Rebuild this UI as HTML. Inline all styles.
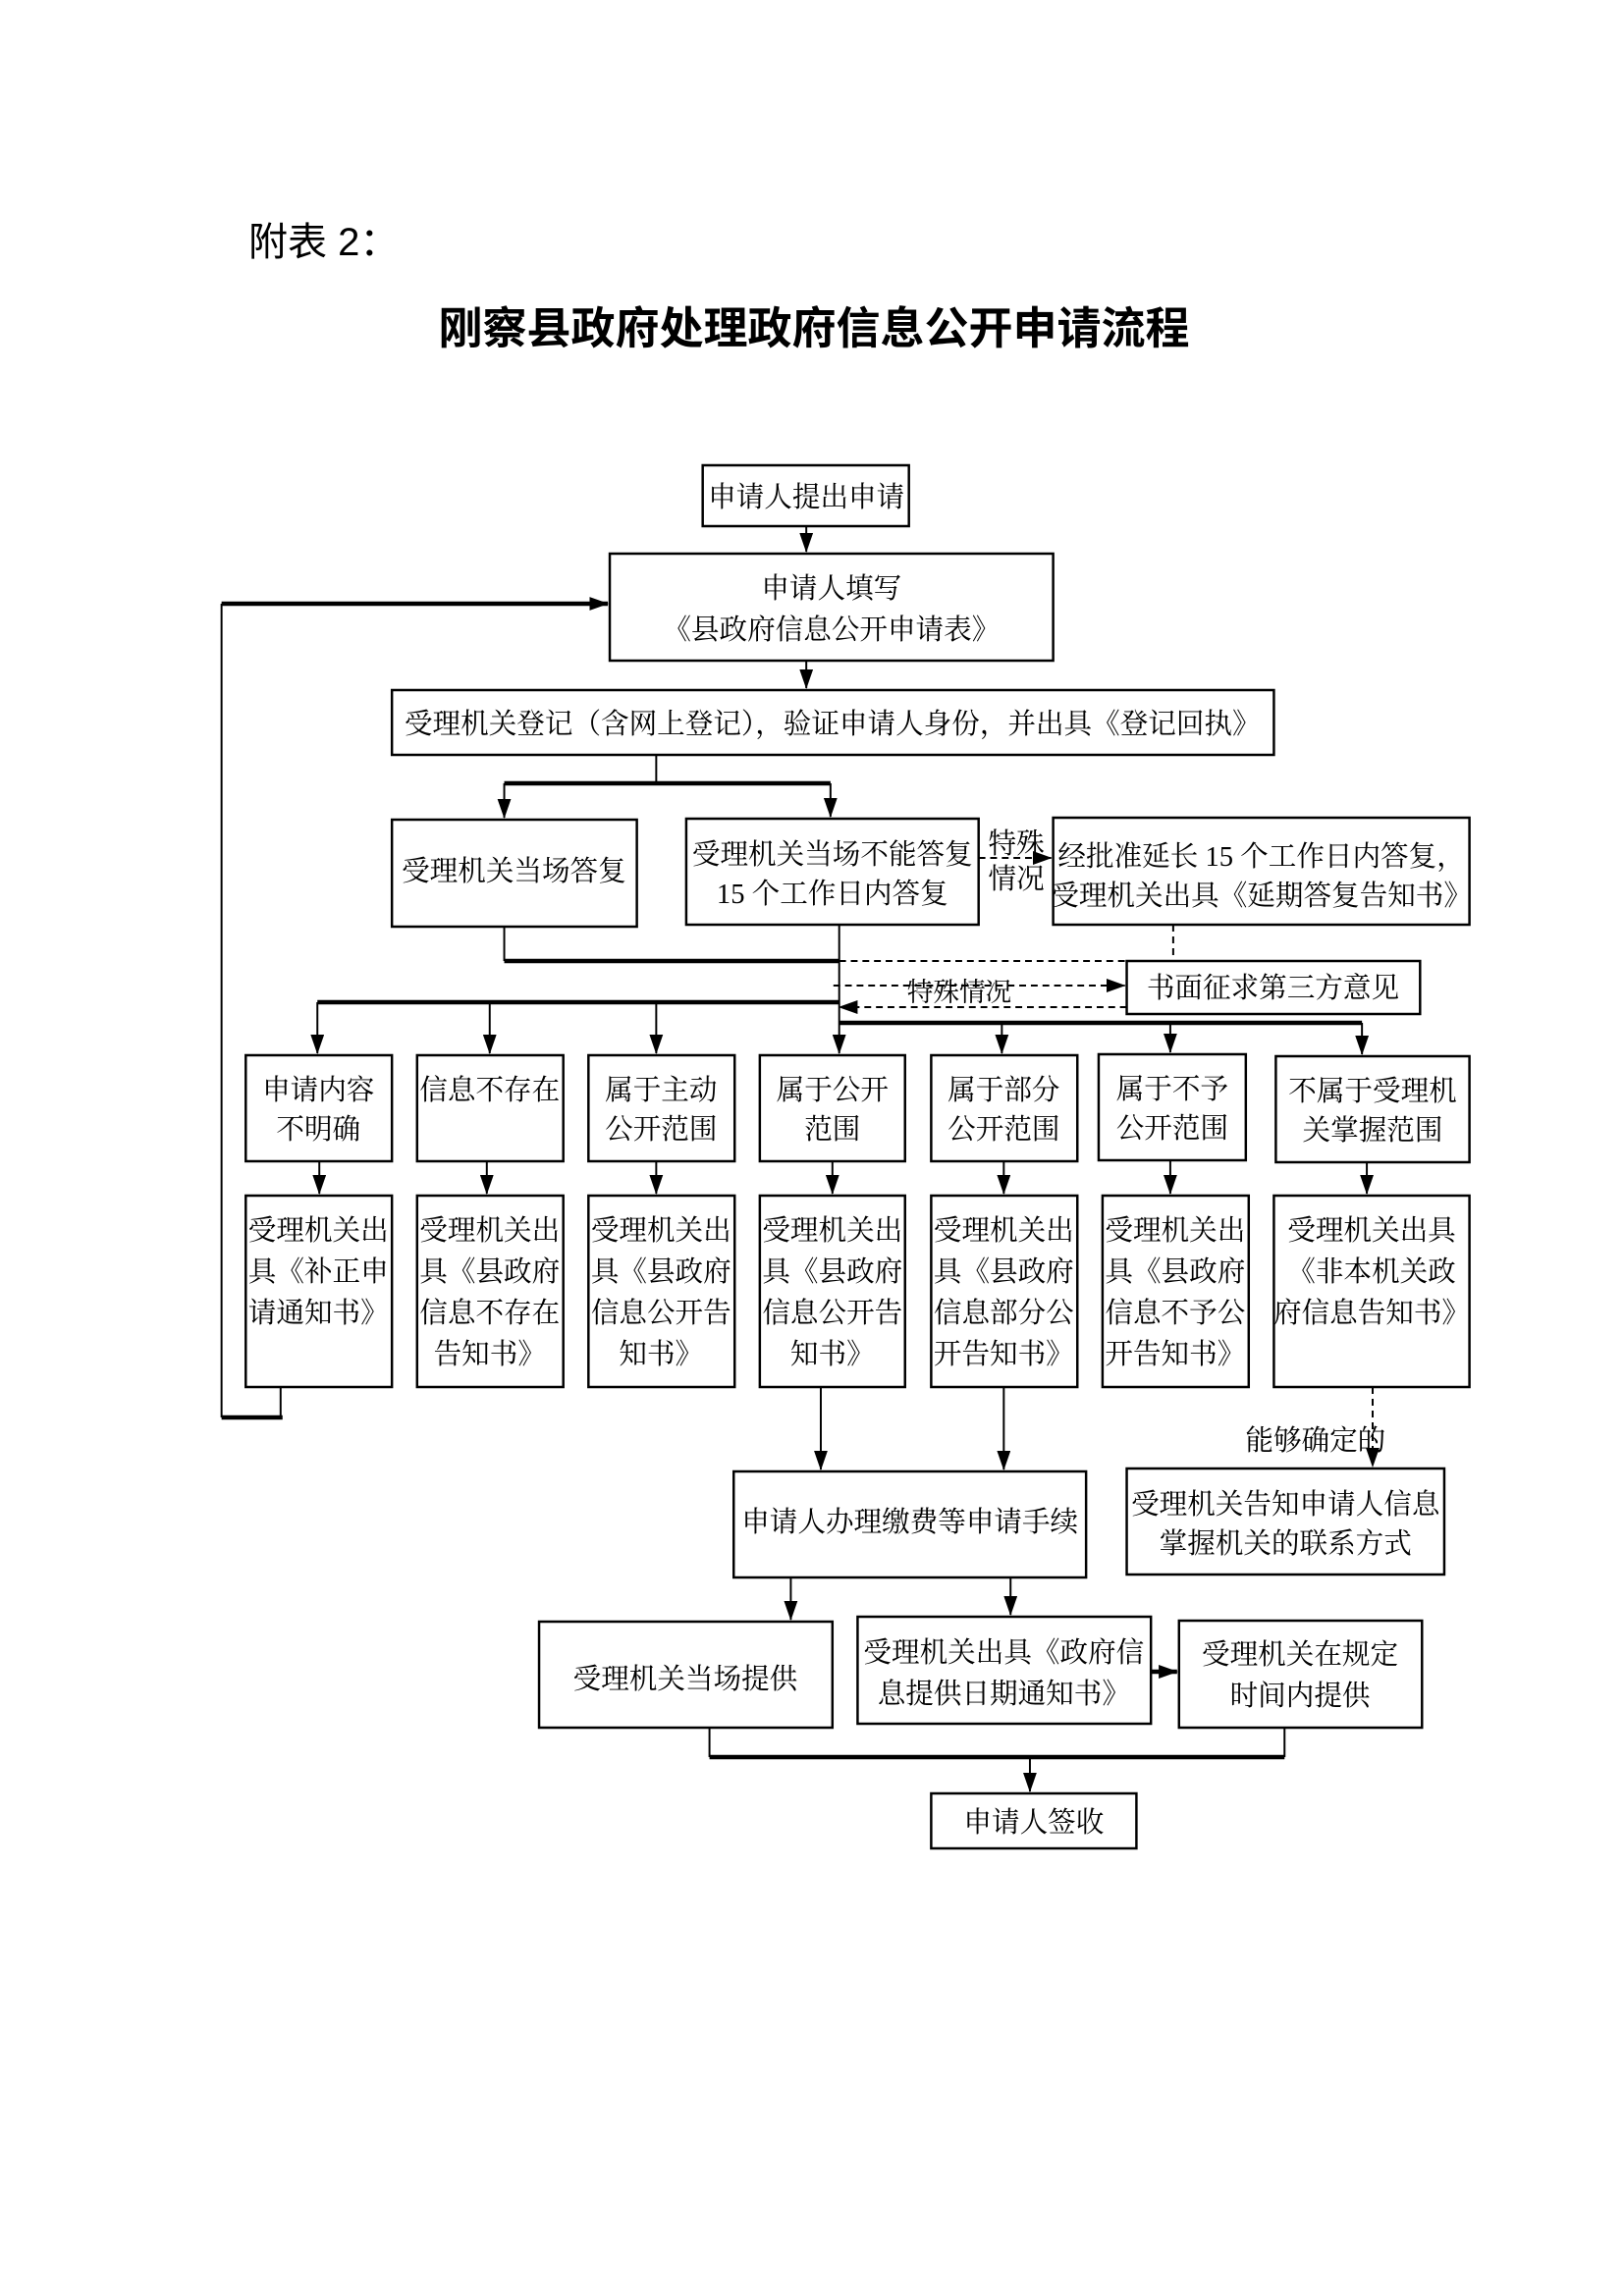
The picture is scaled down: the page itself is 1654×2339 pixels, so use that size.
<!DOCTYPE html>
<html><head><meta charset="utf-8"><style>
body{margin:0;background:#fff}
svg{display:block}
text{font-family:"Liberation Serif","Noto Serif CJK SC",serif;font-size:29px;fill:#000;text-anchor:middle}
.b{fill:#fff;stroke:#000;stroke-width:2.5}
.l{stroke:#000;stroke-width:2;fill:none}
.t{stroke:#000;stroke-width:4.5;fill:none}
.d{stroke:#000;stroke-width:2;fill:none;stroke-dasharray:7,5}
</style></head><body>
<svg width="1654" height="2339" viewBox="0 0 1654 2339" xmlns="http://www.w3.org/2000/svg">
<defs>
<marker id="A" markerWidth="20" markerHeight="14" refX="19" refY="7" orient="auto" markerUnits="userSpaceOnUse"><path d="M0,0 L20,7 L0,14 z" fill="#000"/></marker>
</defs>
<text x="253" y="260" style="font-family:'Liberation Sans','Noto Sans CJK SC',sans-serif;font-size:40px;text-anchor:start">附表 2：</text>
<text x="829" y="350" style="font-family:'Liberation Sans','Noto Sans CJK SC',sans-serif;font-size:45px;font-weight:bold">刚察县政府处理政府信息公开申请流程</text>

<g transform="translate(2.8,0) scale(0.986,1)">
<rect class="b" x="723" y="474" width="213" height="62"/><text x="830" y="516">申请人提出申请</text>
<rect class="b" x="627" y="564" width="458" height="109"/><text x="856" y="609">申请人填写</text><text x="856" y="651">《县政府信息公开申请表》</text>
<rect class="b" x="402" y="703" width="911" height="66"/><text x="857" y="747">受理机关登记（含网上登记），验证申请人身份，并出具《登记回执》</text>
<rect class="b" x="402" y="835" width="253" height="109"/><text x="528" y="897">受理机关当场答复</text>
<rect class="b" x="706" y="834" width="302" height="108"/><text x="857" y="880">受理机关当场不能答复</text><text x="857" y="920">15 个工作日内答复</text>
<rect class="b" x="1085" y="833" width="430" height="109"/><text x="1300" y="882">经批准延长 15 个工作日内答复，</text><text x="1300" y="922">受理机关出具《延期答复告知书》</text>
<text x="1047" y="869">特殊</text><text x="1047" y="905">情况</text>
<rect class="b" x="1161" y="979" width="303" height="54"/><text x="1312" y="1016">书面征求第三方意见</text>
<text x="988" y="1020" style="font-size:27px">特殊情况</text>

<rect class="b" x="251" y="1075" width="151" height="108"/><text x="326" y="1120">申请内容</text><text x="326" y="1160">不明确</text>
<rect class="b" x="428" y="1075" width="151" height="108"/><text x="503" y="1120">信息不存在</text>
<rect class="b" x="605" y="1075" width="151" height="108"/><text x="680" y="1120">属于主动</text><text x="680" y="1160">公开范围</text>
<rect class="b" x="782" y="1075" width="150" height="108"/><text x="857" y="1120">属于公开</text><text x="857" y="1160">范围</text>
<rect class="b" x="959" y="1075" width="151" height="108"/><text x="1034" y="1120">属于部分</text><text x="1034" y="1160">公开范围</text>
<rect class="b" x="1132" y="1074" width="152" height="108"/><text x="1208" y="1119">属于不予</text><text x="1208" y="1159">公开范围</text>
<rect class="b" x="1315" y="1076" width="200" height="108"/><text x="1415" y="1121">不属于受理机</text><text x="1415" y="1161">关掌握范围</text>

<rect class="b" x="251" y="1218" width="151" height="195"/><text x="326" y="1263">受理机关出</text><text x="326" y="1305">具《补正申</text><text x="326" y="1347">请通知书》</text>
<rect class="b" x="428" y="1218" width="151" height="195"/><text x="503" y="1263">受理机关出</text><text x="503" y="1305">具《县政府</text><text x="503" y="1347">信息不存在</text><text x="503" y="1389">告知书》</text>
<rect class="b" x="605" y="1218" width="151" height="195"/><text x="680" y="1263">受理机关出</text><text x="680" y="1305">具《县政府</text><text x="680" y="1347">信息公开告</text><text x="680" y="1389">知书》</text>
<rect class="b" x="782" y="1218" width="150" height="195"/><text x="857" y="1263">受理机关出</text><text x="857" y="1305">具《县政府</text><text x="857" y="1347">信息公开告</text><text x="857" y="1389">知书》</text>
<rect class="b" x="959" y="1218" width="151" height="195"/><text x="1034" y="1263">受理机关出</text><text x="1034" y="1305">具《县政府</text><text x="1034" y="1347">信息部分公</text><text x="1034" y="1389">开告知书》</text>
<rect class="b" x="1136" y="1218" width="151" height="195"/><text x="1211" y="1263">受理机关出</text><text x="1211" y="1305">具《县政府</text><text x="1211" y="1347">信息不予公</text><text x="1211" y="1389">开告知书》</text>
<rect class="b" x="1313" y="1218" width="202" height="195"/><text x="1414" y="1263">受理机关出具</text><text x="1414" y="1305">《非本机关政</text><text x="1414" y="1347">府信息告知书》</text>

<rect class="b" x="755" y="1499" width="364" height="108"/><text x="937" y="1560">申请人办理缴费等申请手续</text>
<rect class="b" x="1161" y="1496" width="328" height="108"/><text x="1325" y="1542">受理机关告知申请人信息</text><text x="1325" y="1582">掌握机关的联系方式</text>
<text x="1356" y="1477">能够确定的</text>
<rect class="b" x="554" y="1652" width="303" height="108"/><text x="705" y="1720">受理机关当场提供</text>
<rect class="b" x="883" y="1647" width="303" height="109"/><text x="1034" y="1693">受理机关出具《政府信</text><text x="1034" y="1735">息提供日期通知书》</text>
<rect class="b" x="1215" y="1651" width="251" height="109"/><text x="1340" y="1695">受理机关在规定</text><text x="1340" y="1737">时间内提供</text>
<rect class="b" x="959" y="1827" width="212" height="56"/><text x="1065" y="1866">申请人签收</text>

<line class="l" x1="830" y1="536" x2="830" y2="562" marker-end="url(#A)"/>
<line class="l" x1="830" y1="673" x2="830" y2="701" marker-end="url(#A)"/>
<line class="l" x1="675" y1="769" x2="675" y2="798"/>
<line class="t" x1="518" y1="798" x2="855" y2="798"/>
<line class="l" x1="518" y1="798" x2="518" y2="833" marker-end="url(#A)"/>
<line class="l" x1="855" y1="798" x2="855" y2="832" marker-end="url(#A)"/>
<line class="d" x1="1008" y1="874" x2="1083" y2="874" marker-end="url(#A)"/>
<polyline class="l" points="518,944 518,979"/>
<line class="t" x1="518" y1="979" x2="864" y2="979"/>
<line class="d" x1="864" y1="979" x2="1209" y2="979"/>
<line class="d" x1="1209" y1="942" x2="1209" y2="979"/>
<line class="l" x1="864" y1="942" x2="864" y2="1073" marker-end="url(#A)"/>
<line class="d" x1="858" y1="1004" x2="1159" y2="1004" marker-end="url(#A)"/>
<line class="d" x1="1161" y1="1026" x2="864" y2="1026" marker-end="url(#A)"/>
<line class="t" x1="325" y1="1021" x2="864" y2="1021"/>
<line class="l" x1="325" y1="1021" x2="325" y2="1073" marker-end="url(#A)"/>
<line class="l" x1="503" y1="1021" x2="503" y2="1073" marker-end="url(#A)"/>
<line class="l" x1="675" y1="1021" x2="675" y2="1073" marker-end="url(#A)"/>
<line class="t" x1="864" y1="1042" x2="1404" y2="1042"/>
<line class="l" x1="1032" y1="1042" x2="1032" y2="1073" marker-end="url(#A)"/>
<line class="l" x1="1206" y1="1042" x2="1206" y2="1072" marker-end="url(#A)"/>
<line class="l" x1="1404" y1="1042" x2="1404" y2="1074" marker-end="url(#A)"/>
<line class="l" x1="327" y1="1183" x2="327" y2="1216" marker-end="url(#A)"/>
<line class="l" x1="500" y1="1183" x2="500" y2="1216" marker-end="url(#A)"/>
<line class="l" x1="675" y1="1183" x2="675" y2="1216" marker-end="url(#A)"/>
<line class="l" x1="857" y1="1183" x2="857" y2="1216" marker-end="url(#A)"/>
<line class="l" x1="1034" y1="1183" x2="1034" y2="1216" marker-end="url(#A)"/>
<line class="l" x1="1206" y1="1182" x2="1206" y2="1216" marker-end="url(#A)"/>
<line class="l" x1="1409" y1="1184" x2="1409" y2="1216" marker-end="url(#A)"/>
<polyline class="l" points="287,1413 287,1444"/>
<line class="t" x1="226" y1="1444" x2="289" y2="1444"/>
<polyline class="l" points="226,1444 226,615"/>
<line class="t" x1="226" y1="615" x2="625" y2="615" marker-end="url(#A)"/>
<line class="l" x1="845" y1="1413" x2="845" y2="1497" marker-end="url(#A)"/>
<line class="l" x1="1034" y1="1413" x2="1034" y2="1497" marker-end="url(#A)"/>
<line class="d" x1="1415" y1="1413" x2="1415" y2="1494" marker-end="url(#A)"/>
<line class="l" x1="814" y1="1607" x2="814" y2="1650" marker-end="url(#A)"/>
<line class="l" x1="1041" y1="1607" x2="1041" y2="1645" marker-end="url(#A)"/>
<line class="t" x1="1186" y1="1703" x2="1213" y2="1703" marker-end="url(#A)"/>
<polyline class="l" points="730,1760 730,1790"/>
<polyline class="l" points="1324,1760 1324,1790"/>
<line class="t" x1="730" y1="1790" x2="1324" y2="1790"/>
<line class="l" x1="1061" y1="1790" x2="1061" y2="1825" marker-end="url(#A)"/>
</g>
</svg>
</body></html>
